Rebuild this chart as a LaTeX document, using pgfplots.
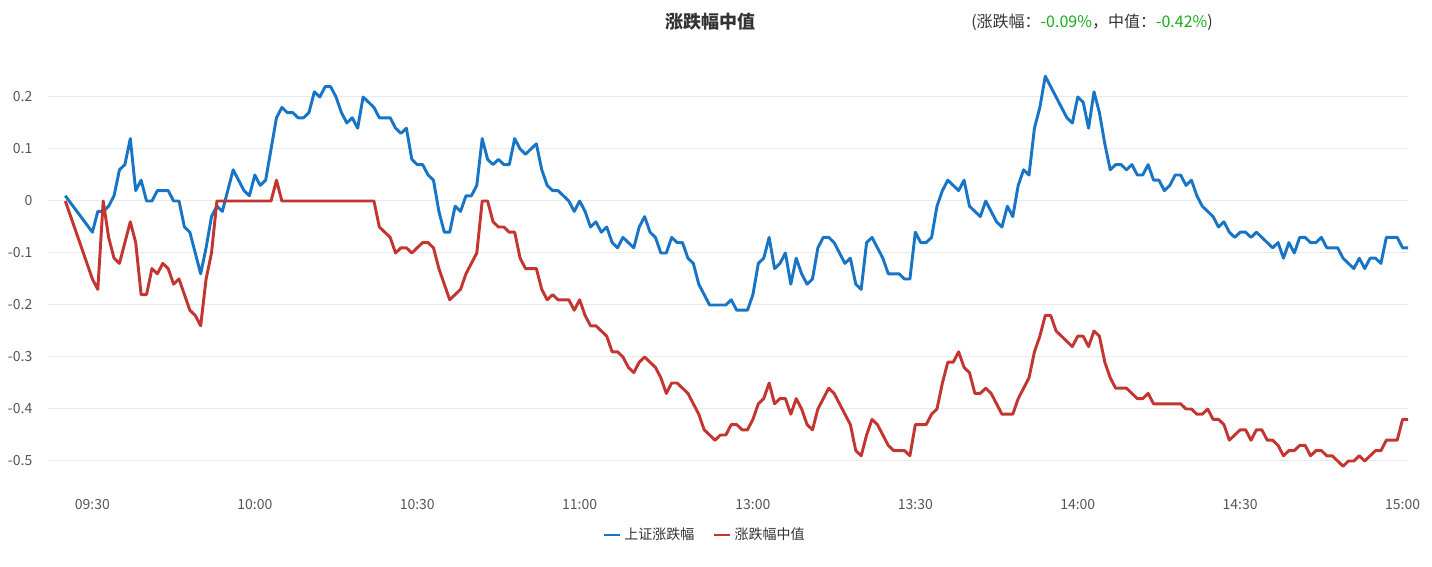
\documentclass[border=0pt]{standalone}
\usepackage{fontspec}
\setmainfont{Noto Sans CJK SC}
\usepackage{pgfplots}
\usepackage{pgfplotstable}
\pgfplotsset{compat=1.18}
\definecolor{sblue}{RGB}{24,116,196}
\definecolor{sred}{RGB}{194,53,49}
\definecolor{gridc}{RGB}{233,233,233}
\definecolor{txt}{RGB}{51,51,51}
\definecolor{lbl}{RGB}{85,85,85}
\definecolor{grn}{RGB}{26,170,26}

\pgfplotstableread{
x y
-5 0.01
0 -0.06
1 -0.02
2 -0.02
3 -0.01
4 0.01
5 0.06
6 0.07
7 0.12
8 0.02
9 0.04
10 0.00
11 0.00
12 0.02
13 0.02
14 0.02
15 0.00
16 0.00
17 -0.05
18 -0.06
19 -0.10
20 -0.14
21 -0.09
22 -0.03
23 -0.01
24 -0.02
25 0.02
26 0.06
27 0.04
28 0.02
29 0.01
30 0.05
31 0.03
32 0.04
33 0.10
34 0.16
35 0.18
36 0.17
37 0.17
38 0.16
39 0.16
40 0.17
41 0.21
42 0.20
43 0.22
44 0.22
45 0.20
46 0.17
47 0.15
48 0.16
49 0.14
50 0.20
51 0.19
52 0.18
53 0.16
54 0.16
55 0.16
56 0.14
57 0.13
58 0.14
59 0.08
60 0.07
61 0.07
62 0.05
63 0.04
64 -0.02
65 -0.06
66 -0.06
67 -0.01
68 -0.02
69 0.01
70 0.01
71 0.03
72 0.12
73 0.08
74 0.07
75 0.08
76 0.07
77 0.07
78 0.12
79 0.10
80 0.09
81 0.10
82 0.11
83 0.06
84 0.03
85 0.02
86 0.02
87 0.01
88 0.00
89 -0.02
90 0.00
91 -0.02
92 -0.05
93 -0.04
94 -0.06
95 -0.05
96 -0.08
97 -0.09
98 -0.07
99 -0.08
100 -0.09
101 -0.05
102 -0.03
103 -0.06
104 -0.07
105 -0.10
106 -0.10
107 -0.07
108 -0.08
109 -0.08
110 -0.11
111 -0.12
112 -0.16
113 -0.18
114 -0.20
115 -0.20
116 -0.20
117 -0.20
118 -0.19
119 -0.21
120 -0.21
121 -0.21
122 -0.18
123 -0.12
124 -0.11
125 -0.07
126 -0.13
127 -0.12
128 -0.10
129 -0.16
130 -0.11
131 -0.14
132 -0.16
133 -0.15
134 -0.09
135 -0.07
136 -0.07
137 -0.08
138 -0.10
139 -0.12
140 -0.11
141 -0.16
142 -0.17
143 -0.08
144 -0.07
145 -0.09
146 -0.11
147 -0.14
148 -0.14
149 -0.14
150 -0.15
151 -0.15
152 -0.06
153 -0.08
154 -0.08
155 -0.07
156 -0.01
157 0.02
158 0.04
159 0.03
160 0.02
161 0.04
162 -0.01
163 -0.02
164 -0.03
165 0.00
166 -0.02
167 -0.04
168 -0.05
169 -0.01
170 -0.03
171 0.03
172 0.06
173 0.05
174 0.14
175 0.18
176 0.24
177 0.22
178 0.20
179 0.18
180 0.16
181 0.15
182 0.20
183 0.19
184 0.14
185 0.21
186 0.17
187 0.11
188 0.06
189 0.07
190 0.07
191 0.06
192 0.07
193 0.05
194 0.05
195 0.07
196 0.04
197 0.04
198 0.02
199 0.03
200 0.05
201 0.05
202 0.03
203 0.04
204 0.01
205 -0.01
206 -0.02
207 -0.03
208 -0.05
209 -0.04
210 -0.06
211 -0.07
212 -0.06
213 -0.06
214 -0.07
215 -0.06
216 -0.07
217 -0.08
218 -0.09
219 -0.08
220 -0.11
221 -0.08
222 -0.10
223 -0.07
224 -0.07
225 -0.08
226 -0.08
227 -0.07
228 -0.09
229 -0.09
230 -0.09
231 -0.11
232 -0.12
233 -0.13
234 -0.11
235 -0.13
236 -0.11
237 -0.11
238 -0.12
239 -0.07
240 -0.07
241 -0.07
242 -0.09
243 -0.09
}\shdata

\pgfplotstableread{
x y
-5 0.00
0 -0.15
1 -0.17
2 0.00
3 -0.07
4 -0.11
5 -0.12
6 -0.08
7 -0.04
8 -0.08
9 -0.18
10 -0.18
11 -0.13
12 -0.14
13 -0.12
14 -0.13
15 -0.16
16 -0.15
17 -0.18
18 -0.21
19 -0.22
20 -0.24
21 -0.15
22 -0.10
23 0.00
33 0.00
34 0.04
35 0.00
52 0.00
53 -0.05
54 -0.06
55 -0.07
56 -0.10
57 -0.09
58 -0.09
59 -0.10
60 -0.09
61 -0.08
62 -0.08
63 -0.09
64 -0.13
65 -0.16
66 -0.19
67 -0.18
68 -0.17
69 -0.14
70 -0.12
71 -0.10
72 0.00
73 0.00
74 -0.04
75 -0.05
76 -0.05
77 -0.06
78 -0.06
79 -0.11
80 -0.13
81 -0.13
82 -0.13
83 -0.17
84 -0.19
85 -0.18
86 -0.19
87 -0.19
88 -0.19
89 -0.21
90 -0.19
91 -0.22
92 -0.24
93 -0.24
94 -0.25
95 -0.26
96 -0.29
97 -0.29
98 -0.30
99 -0.32
100 -0.33
101 -0.31
102 -0.30
103 -0.31
104 -0.32
105 -0.34
106 -0.37
107 -0.35
108 -0.35
109 -0.36
110 -0.37
111 -0.39
112 -0.41
113 -0.44
114 -0.45
115 -0.46
116 -0.45
117 -0.45
118 -0.43
119 -0.43
120 -0.44
121 -0.44
122 -0.42
123 -0.39
124 -0.38
125 -0.35
126 -0.39
127 -0.38
128 -0.38
129 -0.41
130 -0.38
131 -0.40
132 -0.43
133 -0.44
134 -0.40
135 -0.38
136 -0.36
137 -0.37
138 -0.39
139 -0.41
140 -0.43
141 -0.48
142 -0.49
143 -0.45
144 -0.42
145 -0.43
146 -0.45
147 -0.47
148 -0.48
149 -0.48
150 -0.48
151 -0.49
152 -0.43
153 -0.43
154 -0.43
155 -0.41
156 -0.40
157 -0.35
158 -0.31
159 -0.31
160 -0.29
161 -0.32
162 -0.33
163 -0.37
164 -0.37
165 -0.36
166 -0.37
167 -0.39
168 -0.41
169 -0.41
170 -0.41
171 -0.38
172 -0.36
173 -0.34
174 -0.29
175 -0.26
176 -0.22
177 -0.22
178 -0.25
179 -0.26
180 -0.27
181 -0.28
182 -0.26
183 -0.26
184 -0.28
185 -0.25
186 -0.26
187 -0.31
188 -0.34
189 -0.36
190 -0.36
191 -0.36
192 -0.37
193 -0.38
194 -0.38
195 -0.37
196 -0.39
201 -0.39
202 -0.40
203 -0.40
204 -0.41
205 -0.41
206 -0.40
207 -0.42
208 -0.42
209 -0.43
210 -0.46
211 -0.45
212 -0.44
213 -0.44
214 -0.46
215 -0.44
216 -0.44
217 -0.46
218 -0.46
219 -0.47
220 -0.49
221 -0.48
222 -0.48
223 -0.47
224 -0.47
225 -0.49
226 -0.48
227 -0.48
228 -0.49
229 -0.49
230 -0.50
231 -0.51
232 -0.50
233 -0.50
234 -0.49
235 -0.50
236 -0.49
237 -0.48
238 -0.48
239 -0.46
240 -0.46
241 -0.46
242 -0.42
243 -0.42
}\meddata

\begin{document}
\begin{tikzpicture}
\useasboundingbox (0,0) rectangle (1074pt,425.25pt);
\begin{axis}[
  at={(36pt,60pt)}, anchor=south west,
  scale only axis, width=1020pt, height=312pt,
  xmin=-8.2, xmax=243, ymin=-0.55, ymax=0.25,
  axis line style={draw=none},
  major tick length=0pt,
  ymajorgrids,
  grid style={gridc, line width=0.75pt},
  ytick={-0.5,-0.4,-0.3,-0.2,-0.1,0,0.1,0.2},
  yticklabels={-0.5,-0.4,-0.3,-0.2,-0.1,0,0.1,0.2},
  xtick={0,30,60,90,122,152,182,212,242},
  xticklabels={09:30,10:00,10:30,11:00,13:00,13:30,14:00,14:30,15:00},
  /pgf/number format/assume math mode=true,
  tick label style={font=\fontsize{10.5}{12}\selectfont, text=lbl},
  yticklabel style={xshift=-8.25pt},
  xticklabel style={yshift=-5.5pt},
  legend columns=2,
  legend style={at={(0.4831,-0.1154)}, anchor=center, draw=none, fill=none,
    font=\fontsize{10.5}{12}\selectfont, text=txt,
    /tikz/every even column/.append style={column sep=12pt}},
  legend image code/.code={\draw[#1, line width=2.2pt] (0pt,0pt) -- (12pt,0pt);},
]
\addplot[sblue, line width=2.2pt, line join=round] table[x=x,y=y] {\shdata};
\addlegendentry{上证涨跌幅}
\addplot[sred, line width=2.2pt, line join=round] table[x=x,y=y] {\meddata};
\addlegendentry{涨跌幅中值}
\end{axis}
\node[font=\fontsize{13.5}{15}\selectfont\bfseries, text=txt] at (532.5pt,408.75pt) {涨跌幅中值};
\node[anchor=west, inner sep=0pt, font=\fontsize{12}{14}\selectfont, text=txt] at (728.25pt,408.75pt) {(涨跌幅：\textcolor{grn}{-0.09\%}，中值：\textcolor{grn}{-0.42\%})};
\end{tikzpicture}
\end{document}
